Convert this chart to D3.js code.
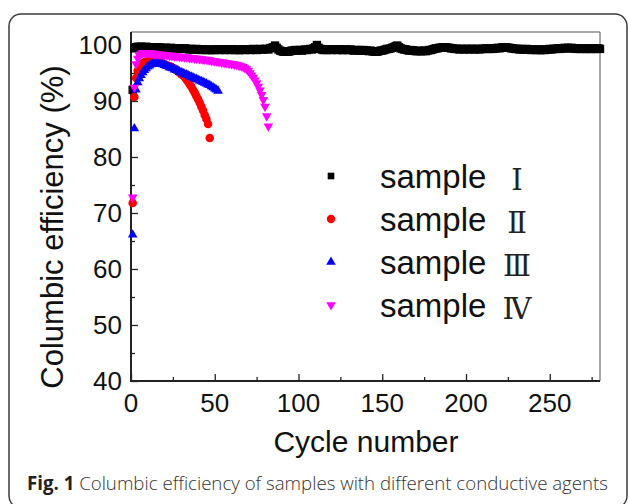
<!DOCTYPE html>
<html>
<head>
<meta charset="utf-8">
<script src="https://cdn.jsdelivr.net/npm/d3@7"></script>
<style>
  html, body { margin: 0; padding: 0; background: #fff; }
  svg { display: block; }
</style>
</head>
<body>
<div id="chart"></div>
<script>
// --- DATA (cycle numbers start at 1, one value per cycle) ---
const sampleI = [
  92.0, 99.4, 99.6, 99.7, 99.6, 99.7, 99.6, 99.6, 99.7, 99.6, 99.6, 99.5, 99.6, 99.5, 99.5, 99.6, 99.5, 99.5, 99.4, 99.5,
  99.5, 99.4, 99.4, 99.5, 99.4, 99.4, 99.3, 99.4, 99.4, 99.3, 99.3, 99.4, 99.3, 99.3, 99.2, 99.3, 99.2, 99.2, 99.3, 99.2,
  99.2, 99.1, 99.2, 99.2, 99.1, 99.2, 99.1, 99.1, 99.2, 99.1, 99.2, 99.2, 99.1, 99.2, 99.2, 99.1, 99.2, 99.2, 99.1, 99.2,
  99.2, 99.1, 99.2, 99.1, 99.1, 99.2, 99.2, 99.1, 99.2, 99.2, 99.1, 99.2, 99.3, 99.2, 99.1, 99.2, 99.3, 99.2, 99.2, 99.3,
  99.3, 99.2, 99.4, 99.5, 99.6, 99.9, 99.5, 99.2, 99.0, 98.9, 98.8, 98.8, 98.9, 98.8, 98.9, 99.0, 99.0, 99.1, 99.0, 99.1,
  99.1, 99.0, 99.1, 99.2, 99.1, 99.2, 99.3, 99.2, 99.4, 99.6, 100.0, 99.5, 99.3, 99.2, 99.1, 99.2, 99.1, 99.2, 99.2, 99.1,
  99.2, 99.2, 99.1, 99.2, 99.2, 99.1, 99.1, 99.2, 99.2, 99.1, 99.2, 99.1, 99.0, 99.1, 99.1, 99.0, 99.1, 99.0, 99.1, 99.0,
  99.0, 98.9, 99.0, 98.9, 98.8, 98.9, 98.8, 98.9, 99.0, 99.0, 99.1, 99.2, 99.3, 99.3, 99.4, 99.5, 99.6, 99.8, 99.9, 99.6,
  99.4, 99.3, 99.2, 99.2, 99.1, 99.0, 99.1, 99.0, 99.0, 98.9, 98.9, 99.0, 98.9, 98.9, 99.0, 98.9, 99.0, 99.1, 99.1, 99.2,
  99.3, 99.4, 99.4, 99.5, 99.5, 99.6, 99.5, 99.6, 99.5, 99.5, 99.4, 99.4, 99.3, 99.3, 99.3, 99.2, 99.3, 99.3, 99.2, 99.3,
  99.3, 99.2, 99.3, 99.3, 99.2, 99.3, 99.3, 99.2, 99.3, 99.3, 99.3, 99.4, 99.3, 99.3, 99.4, 99.3, 99.4, 99.4, 99.5, 99.4,
  99.5, 99.6, 99.5, 99.6, 99.5, 99.5, 99.4, 99.4, 99.3, 99.3, 99.3, 99.2, 99.3, 99.2, 99.2, 99.3, 99.2, 99.2, 99.1, 99.2,
  99.2, 99.1, 99.2, 99.1, 99.1, 99.2, 99.1, 99.2, 99.2, 99.3, 99.2, 99.3, 99.3, 99.3, 99.4, 99.3, 99.4, 99.4, 99.5, 99.4,
  99.5, 99.4, 99.5, 99.4, 99.4, 99.3, 99.4, 99.3, 99.3, 99.4, 99.3, 99.3, 99.4, 99.3, 99.3, 99.4, 99.3, 99.3, 99.4, 99.3
];

const sampleII = [
  71.8, 90.7, 94.1, 95.4, 96.0, 96.4, 96.7, 96.9, 97.0, 97.1, 97.1, 97.2, 97.2, 97.1, 97.1, 97.0, 96.9, 96.8, 96.7, 96.5,
  96.4, 96.3, 96.2, 96.1, 95.9, 95.8, 95.6, 95.3, 95.1, 94.8, 94.6, 94.3, 93.9, 93.5, 93.0, 92.6, 92.0, 91.5, 90.9, 90.3,
  89.7, 89.0, 88.3, 87.5, 86.8, 85.9, 83.4
];

const sampleIII = [
  66.1, 85.1, 92.0, 93.3, 94.0, 94.6, 95.1, 95.5, 95.8, 96.1, 96.3, 96.5, 96.6, 96.7, 96.7, 96.7, 96.7, 96.6, 96.5, 96.4,
  96.3, 96.2, 96.0, 95.9, 95.8, 95.6, 95.5, 95.4, 95.2, 95.1, 95.0, 94.8, 94.7, 94.6, 94.4, 94.3, 94.2, 94.0, 93.9, 93.8,
  93.6, 93.5, 93.4, 93.2, 93.1, 92.9, 92.8, 92.6, 92.4, 92.2, 92.0, 91.8
];

const sampleIV = [
  72.8, 92.4, 96.6, 97.6, 98.1, 98.4, 98.6, 98.6, 98.6, 98.6, 98.5, 98.5, 98.5, 98.4, 98.4, 98.4, 98.3, 98.3, 98.3, 98.2,
  98.2, 98.2, 98.1, 98.1, 98.1, 98.0, 98.0, 98.0, 97.9, 97.9, 97.9, 97.8, 97.8, 97.8, 97.7, 97.7, 97.7, 97.6, 97.6, 97.6,
  97.5, 97.5, 97.4, 97.4, 97.4, 97.3, 97.3, 97.2, 97.2, 97.1, 97.1, 97.0, 97.0, 96.9, 96.9, 96.8, 96.8, 96.7, 96.7, 96.6,
  96.6, 96.5, 96.5, 96.4, 96.3, 96.2, 96.1, 95.9, 95.7, 95.4, 95.0, 94.6, 94.2, 93.7, 93.2, 92.6, 91.9, 91.1, 90.2, 89.0,
  87.3, 85.5
];

const seriesNames = ["sample", "sample", "sample", "sample"];
const seriesNumerals = ["Ⅰ", "Ⅱ", "Ⅲ", "Ⅳ"];
const xTicks = [0, 50, 100, 150, 200, 250];
const yTicks = [40, 50, 60, 70, 80, 90, 100];
const xLabel = "Cycle number";
const yLabel = "Columbic efficiency (%)";
const captionBold = "Fig. 1";
const captionText = " Columbic efficiency of samples with different conductive agents";

// --- SETUP ---
const W = 629, H = 504;
const plot = {left: 131, right: 600, top: 32, bottom: 381};

const svg = d3.select("#chart").append("svg")
    .attr("width", W)
    .attr("height", H);

// outer figure frame
svg.append("rect")
    .attr("x", 9).attr("y", 14)
    .attr("width", 618).attr("height", 494)
    .attr("rx", 12)
    .attr("fill", "none")
    .attr("stroke", "#3a3a3a")
    .attr("stroke-width", 1.5);

const x = d3.scaleLinear().domain([0, 280]).range([plot.left, plot.right]);
const y = d3.scaleLinear().domain([40, 102.32]).range([plot.bottom, plot.top]);

// top / right frame (thin)
svg.append("path")
    .attr("d", `M${plot.left},${plot.top}H${plot.right}V${plot.bottom}`)
    .attr("fill", "none")
    .attr("stroke", "#555")
    .attr("stroke-width", 1);

// --- AXES ---
const xAxis = svg.append("g")
    .attr("transform", `translate(0,${plot.bottom})`)
    .call(d3.axisBottom(x).tickValues(d3.range(0, 281, 25)).tickSize(-7).tickSizeOuter(0).tickFormat(""));
xAxis.selectAll(".tick line")
    .attr("y2", d => d % 50 === 0 ? -7 : -4)
    .attr("stroke-width", 1.3);

const yAxis = svg.append("g")
    .attr("transform", `translate(${plot.left},0)`)
    .call(d3.axisLeft(y).tickValues(d3.range(40, 101, 5)).tickSize(-7).tickSizeOuter(0).tickFormat(""));
yAxis.selectAll(".tick line")
    .attr("x2", d => d % 10 === 0 ? 7 : 4)
    .attr("stroke-width", 1.3);

[xAxis, yAxis].forEach(g => {
    g.select(".domain").attr("stroke", "#222").attr("stroke-width", 2);
    g.selectAll(".tick line").attr("stroke", "#222");
});
// extend axis domain lines to meet corners
xAxis.select(".domain").attr("d", `M${plot.left - 1},0H${plot.right}`);
yAxis.select(".domain").attr("d", `M0,${plot.bottom + 1}V${plot.top}`);

// tick labels
svg.append("g").selectAll("text")
    .data(xTicks)
    .enter().append("text")
    .attr("x", d => x(d))
    .attr("y", 412)
    .attr("text-anchor", "middle")
    .style("font-family", "'Liberation Sans', Arial, sans-serif")
    .style("font-size", "26px")
    .attr("fill", "#111")
    .text(d => d);

svg.append("g").selectAll("text")
    .data(yTicks)
    .enter().append("text")
    .attr("x", 122)
    .attr("y", d => y(d) + 9)
    .attr("text-anchor", "end")
    .style("font-family", "'Liberation Sans', Arial, sans-serif")
    .style("font-size", "26px")
    .attr("fill", "#111")
    .text(d => d);

// axis titles
svg.append("text")
    .attr("x", 366)
    .attr("y", 452)
    .attr("text-anchor", "middle")
    .style("font-family", "'Liberation Sans', Arial, sans-serif")
    .style("font-size", "30px")
    .attr("fill", "#111")
    .text(xLabel);

svg.append("text")
    .attr("transform", "translate(63,227) rotate(-90)")
    .attr("text-anchor", "middle")
    .style("font-family", "'Liberation Sans', Arial, sans-serif")
    .style("font-size", "31px")
    .attr("fill", "#111")
    .text(yLabel);

// --- SERIES ---
const series = [
    {values: sampleI,   color: "#000000", symbol: d3.symbolSquare,   size: 70, rotate: 0},
    {values: sampleII,  color: "#ff0000", symbol: d3.symbolCircle,   size: 58, rotate: 0},
    {values: sampleIII, color: "#0000ff", symbol: d3.symbolTriangle, size: 40, rotate: 0},
    {values: sampleIV,  color: "#ff00ff", symbol: d3.symbolTriangle, size: 40, rotate: 180}
];
const legendSizes = [44, 55, 40, 40];

const pointsGroup = svg.append("g");
series.forEach(s => {
    const sym = d3.symbol().type(s.symbol).size(s.size);
    pointsGroup.append("g")
        .selectAll("path")
        .data(s.values)
        .enter().append("path")
        .attr("d", sym)
        .attr("transform", (d, i) => `translate(${x(i + 1)},${y(d)}) rotate(${s.rotate})`)
        .attr("fill", s.color);
});

// --- LEGEND ---
const legend = svg.append("g");
const legendRows = [176, 219, 262, 305];
series.forEach((s, i) => {
    const sym = d3.symbol().type(s.symbol).size(legendSizes[i]);
    legend.append("path")
        .attr("d", sym)
        .attr("transform", `translate(331,${legendRows[i]}) rotate(${s.rotate})`)
        .attr("fill", s.color);
    legend.append("text")
        .attr("x", 380)
        .attr("y", legendRows[i] + 12)
        .style("font-family", "'Liberation Sans', Arial, sans-serif")
        .style("font-size", "33px")
        .attr("fill", "#111")
        .text(seriesNames[i]);
    legend.append("text")
        .attr("x", 517)
        .attr("y", legendRows[i] + 14)
        .attr("text-anchor", "middle")
        .style("font-family", "'DejaVu Serif', 'Liberation Serif', serif")
        .style("font-size", "29px")
        .attr("fill", "#222")
        .text(seriesNumerals[i]);
});

// --- CAPTION ---
const caption = svg.append("text")
    .attr("x", 27)
    .attr("y", 490)
    .attr("textLength", 581)
    .attr("lengthAdjust", "spacingAndGlyphs")
    .style("font-family", "'Open Sans', 'Noto Sans', sans-serif")
    .style("font-size", "19px")
    .attr("fill", "#333");
caption.append("tspan").style("font-weight", "bold").attr("fill", "#222").text(captionBold);
caption.append("tspan").style("font-weight", "300").text(captionText);
</script>
</body>
</html>
